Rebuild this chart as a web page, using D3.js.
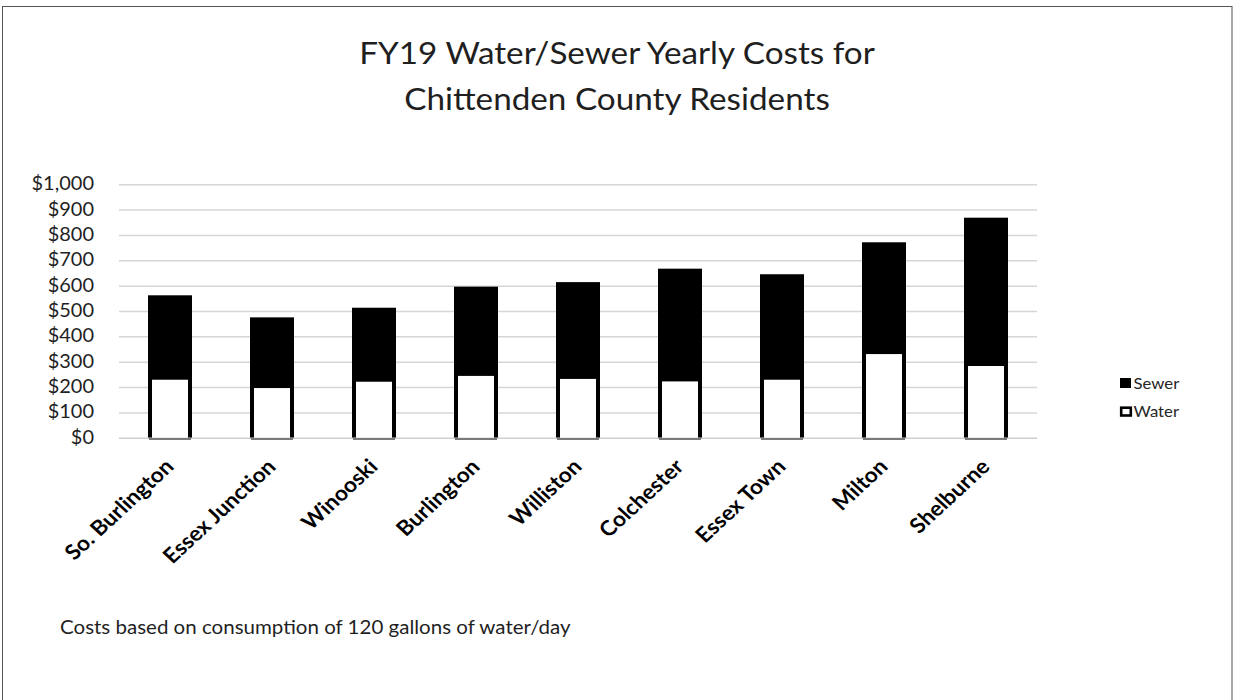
<!DOCTYPE html>
<html>
<head>
<meta charset="utf-8">
<script src="https://cdn.jsdelivr.net/npm/d3@7"></script>
<style>
  html, body { margin: 0; padding: 0; background: #fff; }
  svg { display: block; }
  text { font-family: Lato, "Open Sans", sans-serif; }
</style>
</head>
<body>
<svg id="chart" width="1233" height="700"></svg>
<script>
// Yearly cost per town, split into water and sewer portions (USD)
const categories = ["So. Burlington", "Essex Junction", "Winooski", "Burlington", "Williston",
                    "Colchester", "Essex Town", "Milton", "Shelburne"];
const water = [240, 206, 232, 255, 243, 233, 240, 340, 293];
const sewer = [316, 263, 275, 335, 365, 428, 399, 425, 569];
const seriesNames = ["Sewer", "Water"];
const yTicks = [0, 100, 200, 300, 400, 500, 600, 700, 800, 900, 1000];
const titleLines = ["FY19 Water/Sewer Yearly Costs for", "Chittenden County Residents"];
const footnote = "Costs based on consumption of 120 gallons of water/day";

const svg = d3.select("#chart");
const SX = 1.08;          // horizontal text widening
const ink = "#1f1f1f";

// outer frame
svg.append("rect")
  .attr("x", 2.5).attr("y", 6.5).attr("width", 1229.5).attr("height", 710)
  .attr("fill", "none").attr("stroke", "#555").attr("stroke-width", 1);

// title
svg.selectAll("text.title").data(titleLines).join("text")
  .attr("class", "title")
  .attr("transform", (d, i) => `translate(617,${64 + i * 46}) scale(${SX},1)`)
  .attr("text-anchor", "middle")
  .attr("font-size", 30.8)
  .attr("fill", ink)
  .text(d => d);

const plot = { left: 119, right: 1037, top: 184.7, bottom: 438.3 };

const x = d3.scaleBand()
  .domain(categories)
  .range([plot.left, plot.right])
  .paddingInner(62 / 102)
  .paddingOuter(31 / 102);

const y = d3.scaleLinear()
  .domain([0, 1000])
  .range([plot.bottom, plot.top]);

// gridlines
svg.append("g")
  .selectAll("line").data(yTicks.filter(v => v > 0)).join("line")
  .attr("x1", plot.left).attr("x2", plot.right)
  .attr("y1", d => y(d)).attr("y2", d => y(d))
  .attr("stroke", "#d6d6d6").attr("stroke-width", 1.5);

// y axis labels
svg.append("g")
  .selectAll("text").data(yTicks).join("text")
  .attr("transform", d => `translate(94,${y(d) + 5.5}) scale(${SX},1)`)
  .attr("text-anchor", "end")
  .attr("font-size", 18.5)
  .attr("fill", ink)
  .text(d => "$" + d3.format(",")(d));

// stacked bars
const rows = categories.map((c, i) => ({ town: c, water: water[i], sewer: sewer[i] }));
const stacked = d3.stack().keys(["water", "sewer"])(rows);

const bars = svg.append("g");
// water: white with black sides/top (bottom edge left open)
bars.selectAll("rect.water").data(stacked[0]).join("rect")
  .attr("class", "water")
  .attr("x", d => x(d.data.town))
  .attr("y", d => y(d[1]))
  .attr("width", x.bandwidth())
  .attr("height", d => y(d[0]) - y(d[1]))
  .attr("fill", "#fff")
  .attr("stroke", "#000")
  .attr("stroke-width", 4)
  .attr("stroke-dasharray", d => {
    const w = x.bandwidth(), h = y(d[0]) - y(d[1]);
    return `${w + h} ${w} ${h}`;
  });
// sewer: solid black
bars.selectAll("rect.sewer").data(stacked[1]).join("rect")
  .attr("class", "sewer")
  .attr("x", d => x(d.data.town))
  .attr("y", d => y(d[1]))
  .attr("width", x.bandwidth())
  .attr("height", d => y(d[0]) - y(d[1]))
  .attr("fill", "#000")
  .attr("stroke", "#000")
  .attr("stroke-width", 4);

// category axis line
svg.append("line")
  .attr("x1", plot.left).attr("x2", plot.right)
  .attr("y1", y(0)).attr("y2", y(0))
  .attr("stroke", "#cfcfcf").attr("stroke-width", 1.5);
svg.append("g")
  .selectAll("line").data(categories).join("line")
  .attr("x1", d => x(d) - 1).attr("x2", d => x(d) + x.bandwidth() + 1)
  .attr("y1", y(0) + 0.8).attr("y2", y(0) + 0.8)
  .attr("stroke", "#7a7a7a").attr("stroke-width", 2);

// rotated category labels
svg.append("g")
  .selectAll("text").data(categories).join("text")
  .attr("transform", d => `translate(${x(d) + x.bandwidth() / 2 + 5},468) scale(${SX},1) rotate(-45)`)
  .attr("text-anchor", "end")
  .attr("font-size", 21)
  .attr("font-weight", 700)
  .attr("fill", "#000")
  .text(d => d);

// legend
const legend = svg.append("g");
const legendRows = legend.selectAll("g").data(seriesNames).join("g")
  .attr("transform", (d, i) => `translate(1120,${378 + i * 28.5})`);
legendRows.append("rect")
  .attr("x", d => d === "Water" ? 1.2 : 0)
  .attr("y", d => d === "Water" ? 1.2 : 0)
  .attr("width", d => d === "Water" ? 9.6 : 11)
  .attr("height", d => d === "Water" ? 7.8 : 10)
  .attr("fill", d => d === "Water" ? "#fff" : "#000")
  .attr("stroke", "#000")
  .attr("stroke-width", d => d === "Water" ? 2.6 : 0);
legendRows.append("text")
  .attr("transform", `translate(13.5,10.5) scale(${SX},1)`)
  .attr("font-size", 15.5)
  .attr("fill", "#262626")
  .text(d => d);

// footnote
svg.append("text")
  .attr("transform", `translate(60,634) scale(${SX},1)`)
  .attr("font-size", 19)
  .attr("fill", ink)
  .text(footnote);
</script>
</body>
</html>
